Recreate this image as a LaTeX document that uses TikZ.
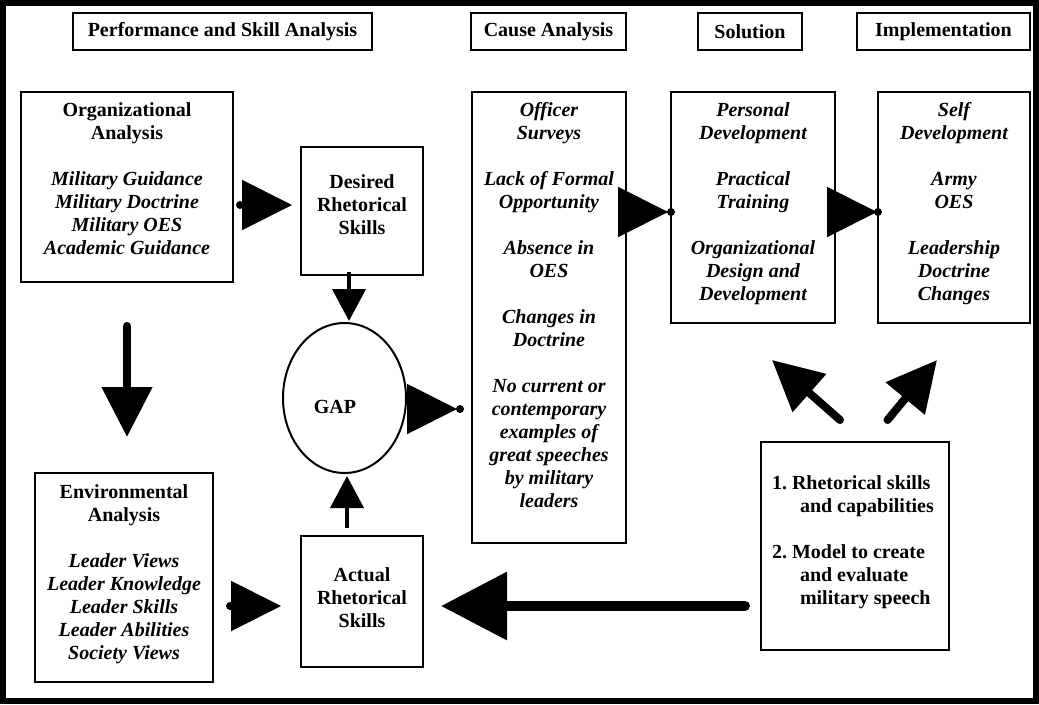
\documentclass[tikz,border=0pt]{standalone}
\usepackage{fontspec}
\setmainfont{Liberation Serif}
\usetikzlibrary{arrows.meta,calc,shapes.geometric}
\newlength{\pxu}\setlength{\pxu}{0.75pt}
\newcommand{\bxt}[4]{\parbox[c][#2\pxu][t]{#1\pxu}{\centering\vspace*{#3\pxu}\strut#4}}
\begin{document}
\begin{tikzpicture}[x=0.75pt,y=-0.75pt,
  every node/.style={font=\fontsize{15}{17.25}\selectfont\bfseries},
  hdr/.style={draw,line width=1.5pt,minimum height=27.75pt,inner sep=0pt,outer sep=0pt},
  bx/.style={draw,line width=1.5pt,inner sep=0pt,outer sep=0pt,anchor=north west},
  tri/.style={line width=1.5pt,-{Triangle[length=37.5pt,width=37.5pt]}},
  stemS/.style={line width=3pt,-{Triangle[length=24pt,width=24.75pt]}},
  stemM/.style={line width=6pt,line cap=round,-{Triangle[length=37.5pt,width=36.75pt]}},
  stemL/.style={line width=7.5pt,line cap=round,-{Triangle[length=49.5pt,width=49.5pt]}}]
\useasboundingbox (0,0) rectangle (1039,704);
\draw[line width=4.5pt] (3,3) rectangle (1036,701);
% headers
\node[hdr,minimum width=224.25pt] (hd1) at (222.5,31.5) {Performance and Skill Analysis};
\node[hdr,minimum width=116.25pt] (hd2) at (548.5,31.5) {Cause Analysis};
\node[hdr,minimum width=78pt] (hd3) at (750,31.5) {Solution};
\node[hdr,minimum width=129.75pt] (hd4) at (943.5,31.5) {Implementation};
% boxes
\node[bx] (org) at (21,92) {\bxt{212}{190}{8.4}{Organizational\\Analysis\\[23\pxu]\itshape Military Guidance\\Military Doctrine\\Military OES\\Academic Guidance}};
\node[bx] (des) at (301,147) {\bxt{122}{128}{25}{Desired\\Rhetorical\\Skills}};
\node[bx] (cause) at (472,92) {\bxt{154}{451}{8.4}{\itshape Officer\\Surveys\\[23\pxu]Lack of Formal\\Opportunity\\[23\pxu]Absence in\\OES\\[23\pxu]Changes in\\Doctrine\\[23\pxu]No current or\\contemporary\\examples of\\great speeches\\by military\\leaders}};
\node[bx] (sol) at (671,92) {\bxt{164}{231}{8.4}{\itshape Personal\\Development\\[23\pxu]Practical\\Training\\[23\pxu]Organizational\\Design and\\Development}};
\node[bx] (impl) at (878,92) {\bxt{152}{231}{8.4}{\itshape Self\\Development\\[23\pxu]Army\\OES\\[23\pxu]Leadership\\Doctrine\\Changes}};
\node[bx] (env) at (35,473) {\bxt{178}{209}{9.4}{Environmental\\Analysis\\[23\pxu]\itshape Leader Views\\Leader Knowledge\\Leader Skills\\Leader Abilities\\Society Views}};
\node[bx] (act) at (301,536) {\bxt{122}{131}{29}{Actual\\Rhetorical\\Skills}};
\node[bx] (model) at (761,442) {\parbox[c][208\pxu][t]{188\pxu}{\raggedright\vspace*{31\pxu}\strut\hspace*{11\pxu}1.~Rhetorical skills\\\hspace*{39\pxu}and capabilities\\[23\pxu]\hspace*{11\pxu}2.~Model to create\\\hspace*{39\pxu}and evaluate\\\hspace*{39\pxu}military speech}};
\node[draw,ellipse,line width=1.5pt,minimum width=92.25pt,minimum height=112.5pt,inner sep=0pt] (gap) at (344.5,398) {\raisebox{-9\pxu}[\height][\depth]{GAP}\hspace*{19\pxu}};
% connector end points
\coordinate (a1) at ($(org.north east)+(7,113)$);
\coordinate (a2) at ($(des.north west)+(-9,58)$);
\coordinate (b1) at ($(env.north east)+(17,133)$);
\coordinate (b2) at ($(act.north west)+(-20,70)$);
\coordinate (c1) at ($(gap.east)+(1,11)$);
\coordinate (c2) at ($(cause.north west)+(-15,317)$);
\coordinate (c3) at ($(cause.north west)+(-12,317)$);
\coordinate (d1) at ($(cause.north east)+(-8,120)$);
\coordinate (d2) at ($(sol.north west)+(-3,120)$);
\coordinate (d3) at ($(sol.north west)+(0,120)$);
\coordinate (e1) at ($(sol.north east)+(-8,120)$);
\coordinate (e2) at ($(impl.north west)+(-1,120)$);
\coordinate (e3) at ($(impl.north west)+(0,120)$);
\coordinate (f1) at ($(des.south)+(-13,-3)$);
\coordinate (f2) at ($(gap.north)+(4.5,-1)$);
\coordinate (g1) at ($(act.north)+(-15,-8)$);
\coordinate (g2) at ($(gap.south)+(2.5,2)$);
\coordinate (h1) at ($(org.south)+(0,44)$);
\coordinate (h2) at ($(env.north)+(3,-36)$);
\coordinate (i1) at ($(model.west)+(-16,60)$);
\coordinate (i2) at ($(act.east)+(18,4.5)$);
\coordinate (j1) at ($(model.north)+(-15,-22)$);
\coordinate (j2) at ($(sol.south)+(19,37)$);
\coordinate (k1) at ($(model.north)+(32.5,-22)$);
\coordinate (k2) at ($(impl.south)+(-17,37)$);
% connectors
\draw[tri] (a1) -- (a2);
\fill (a1) circle[radius=3pt];
\draw[tri] (b1) -- (b2);
\fill (b1) circle[radius=3pt];
\draw[tri] (c1) -- (c2);
\fill (c3) circle[radius=3pt];
\draw[tri] (d1) -- (d2);
\fill (d3) circle[radius=3pt];
\draw[tri] (e1) -- (e2);
\fill (e3) circle[radius=3pt];
\draw[stemS] (f1) -- (f2);
\draw[stemS] (g1) -- (g2);
\draw[stemM] (h1) -- (h2);
\draw[stemL] (i1) -- (i2);
\draw[stemM] (j1) -- (j2);
\draw[stemM] (k1) -- (k2);
\end{tikzpicture}
\end{document}
